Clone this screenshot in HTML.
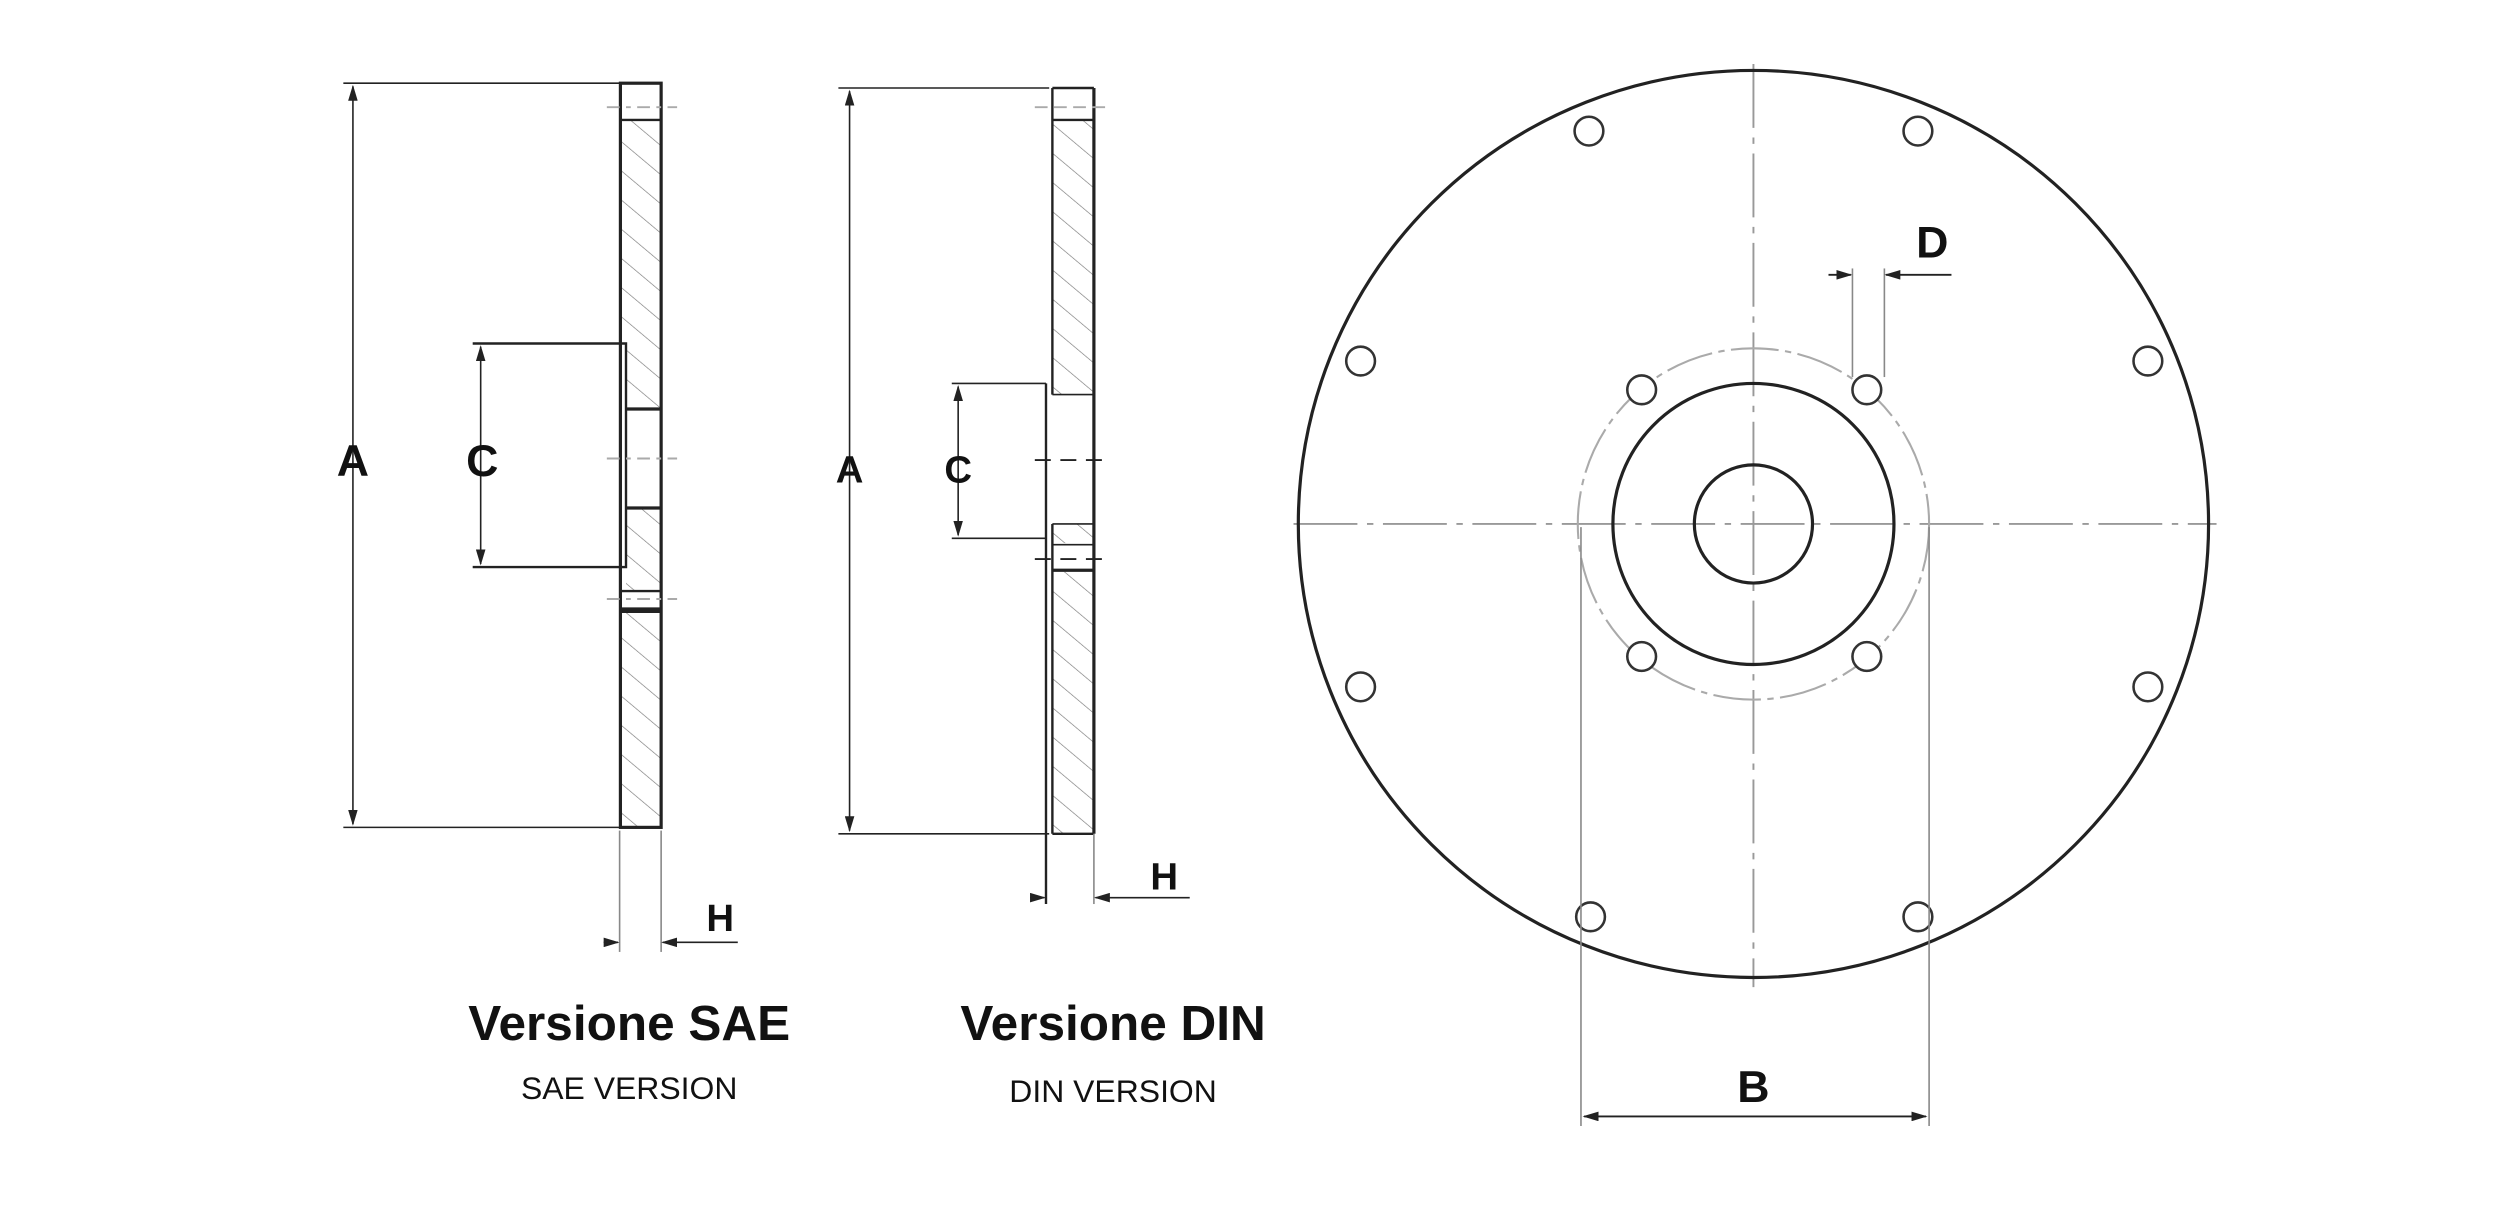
<!DOCTYPE html>
<html><head><meta charset="utf-8"><style>
html,body{margin:0;padding:0;background:#fff;}
svg{display:block;}
text{font-family:"Liberation Sans",sans-serif;}
</style></head><body>
<svg width="2504" height="1214" viewBox="0 0 1568 760" xmlns="http://www.w3.org/2000/svg">
<defs>
<pattern id="h" width="14" height="14" patternUnits="userSpaceOnUse" patternTransform="rotate(-50)">
<line x1="0" y1="0" x2="0" y2="14" stroke="#777" stroke-width="0.8"/>
</pattern>
<marker id="ar" markerWidth="10" markerHeight="6" refX="9" refY="3" orient="auto-start-reverse" markerUnits="userSpaceOnUse"><path d="M0,0 L10,3 L0,6 z" fill="#222"/></marker>
</defs>
<rect width="1568" height="760" fill="#fff"/>

<!-- SAE -->
<g stroke="#222" fill="none">
<line x1="215" y1="52" x2="388" y2="52" stroke-width="1"/>
<line x1="215" y1="518" x2="388" y2="518" stroke-width="1"/>
<line x1="221" y1="54" x2="221" y2="516" stroke-width="1" marker-start="url(#ar)" marker-end="url(#ar)"/>
<rect x="389" y="75" width="25" height="140" fill="url(#h)" stroke="none"/>
<rect x="392" y="215" width="22" height="41" fill="url(#h)" stroke="none"/>
<rect x="392" y="318" width="22" height="52" fill="url(#h)" stroke="none"/>
<rect x="389" y="383" width="25" height="135" fill="url(#h)" stroke="none"/>
<rect x="388.5" y="52" width="25.5" height="466" stroke-width="2"/>
<line x1="388" y1="75" x2="414" y2="75" stroke-width="1.5"/>
<line x1="392" y1="256" x2="414" y2="256" stroke-width="2"/>
<line x1="392" y1="318" x2="414" y2="318" stroke-width="2"/>
<line x1="388" y1="370" x2="414" y2="370" stroke-width="1.5"/>
<line x1="388" y1="382" x2="414" y2="382" stroke-width="3.5"/>
<polyline points="296,215 392,215 392,355 296,355" stroke-width="1.5"/>
<line x1="301" y1="217" x2="301" y2="353" stroke-width="1" marker-start="url(#ar)" marker-end="url(#ar)"/>
<g stroke="#aaa" stroke-dasharray="8,4,3,4" stroke-width="1.2"><line x1="380" y1="67" x2="424" y2="67"/><line x1="380" y1="287" x2="424" y2="287"/><line x1="380" y1="375" x2="424" y2="375"/></g>
<line x1="388" y1="520" x2="388" y2="596" stroke="#888" stroke-width="1"/>
<line x1="414" y1="520" x2="414" y2="596" stroke="#888" stroke-width="1"/>
<line x1="378" y1="590" x2="387" y2="590" stroke-width="1" marker-end="url(#ar)"/>
<line x1="462" y1="590" x2="415" y2="590" stroke-width="1" marker-end="url(#ar)"/>
</g>
<text x="221" y="298" font-size="28" font-weight="bold" text-anchor="middle" fill="#111">A</text>
<text x="302" y="298" font-size="28" font-weight="bold" text-anchor="middle" fill="#111">C</text>
<text x="451" y="583" font-size="24" font-weight="bold" text-anchor="middle" fill="#111">H</text>
<text x="394" y="651" font-size="31" font-weight="bold" text-anchor="middle" fill="#111">Versione SAE</text>
<text x="394" y="688" font-size="20" text-anchor="middle" fill="#111">SAE VERSION</text>

<!-- DIN -->
<g stroke="#222" fill="none">
<line x1="525" y1="55" x2="657" y2="55" stroke-width="1"/>
<line x1="525" y1="522" x2="657" y2="522" stroke-width="1"/>
<line x1="532" y1="57" x2="532" y2="520" stroke-width="1" marker-start="url(#ar)" marker-end="url(#ar)"/>
<rect x="659" y="75" width="26" height="172" fill="url(#h)" stroke="none"/>
<rect x="659" y="328" width="26" height="12" fill="url(#h)" stroke="none"/>
<rect x="659" y="358" width="26" height="164" fill="url(#h)" stroke="none"/>
<line x1="659" y1="55" x2="685" y2="55" stroke-width="1.5"/>
<line x1="659" y1="55" x2="659" y2="247" stroke-width="1.5"/>
<line x1="685" y1="55" x2="685" y2="522" stroke-width="2"/>
<line x1="659" y1="75" x2="685" y2="75" stroke-width="1.5"/>
<line x1="659" y1="247" x2="685" y2="247" stroke-width="1"/>
<line x1="659" y1="328" x2="685" y2="328" stroke-width="1"/>
<line x1="659" y1="328" x2="659" y2="522" stroke-width="1.5"/>
<line x1="659" y1="522" x2="685" y2="522" stroke-width="1.5"/>
<line x1="659" y1="341" x2="685" y2="341" stroke-width="1"/>
<line x1="659" y1="357" x2="685" y2="357" stroke-width="2"/>
<line x1="655" y1="240" x2="655" y2="566" stroke-width="1.5"/>
<polyline points="596,240 655,240" stroke-width="1"/>
<polyline points="596,337 655,337" stroke-width="1"/>
<line x1="600" y1="242" x2="600" y2="335" stroke-width="1" marker-start="url(#ar)" marker-end="url(#ar)"/>
<g stroke="#222" stroke-dasharray="10,6" stroke-width="1.2"><line x1="648" y1="288" x2="696" y2="288"/><line x1="648" y1="350" x2="696" y2="350"/></g>
<line x1="648" y1="67" x2="696" y2="67" stroke="#aaa" stroke-dasharray="8,4" stroke-width="1.2"/>
<line x1="685" y1="522" x2="685" y2="566" stroke="#888" stroke-width="1"/>
<line x1="645" y1="562" x2="654" y2="562" stroke-width="1" marker-end="url(#ar)"/>
<line x1="745" y1="562" x2="686" y2="562" stroke-width="1" marker-end="url(#ar)"/>
</g>
<text x="532" y="302" font-size="24" font-weight="bold" text-anchor="middle" fill="#111">A</text>
<text x="600" y="302" font-size="24" font-weight="bold" text-anchor="middle" fill="#111">C</text>
<text x="729" y="557" font-size="24" font-weight="bold" text-anchor="middle" fill="#111">H</text>
<text x="697" y="651" font-size="31" font-weight="bold" text-anchor="middle" fill="#111">Versione DIN</text>
<text x="697" y="690" font-size="20" text-anchor="middle" fill="#111">DIN VERSION</text>

<!-- Front view -->
<g fill="none">
<g stroke="#999" stroke-width="1.2" stroke-dasharray="40,6,4,6">
<line x1="810" y1="328" x2="1388" y2="328"/>
<line x1="1098" y1="40" x2="1098" y2="618"/>
</g>
<circle cx="1098" cy="328" r="110" stroke="#aaa" stroke-width="1.3" stroke-dasharray="30,4,4,4"/>
<ellipse cx="1098" cy="328" rx="285" ry="284" stroke="#222" stroke-width="2"/>
<circle cx="1098" cy="328" r="88" stroke="#222" stroke-width="2"/>
<circle cx="1098" cy="328" r="37" stroke="#222" stroke-width="2"/>
<g stroke="#333" stroke-width="1.6" fill="#fff">
<circle cx="1028" cy="244" r="9"/><circle cx="1169" cy="244" r="9"/>
<circle cx="1028" cy="411" r="9"/><circle cx="1169" cy="411" r="9"/>
<circle cx="995" cy="82" r="9"/><circle cx="1201" cy="82" r="9"/>
<circle cx="852" cy="226" r="9"/><circle cx="1345" cy="226" r="9"/>
<circle cx="852" cy="430" r="9"/><circle cx="1345" cy="430" r="9"/>
<circle cx="996" cy="574" r="9"/><circle cx="1201" cy="574" r="9"/>
</g>
<g stroke="#888" stroke-width="1">
<line x1="990" y1="330" x2="990" y2="705"/>
<line x1="1208" y1="330" x2="1208" y2="705"/>
<line x1="1160" y1="168" x2="1160" y2="236"/>
<line x1="1180" y1="168" x2="1180" y2="236"/>
</g>
<line x1="992" y1="699" x2="1206" y2="699" stroke="#222" stroke-width="1.2" marker-start="url(#ar)" marker-end="url(#ar)"/>
<line x1="1145" y1="172" x2="1159" y2="172" stroke="#222" stroke-width="1.2" marker-end="url(#ar)"/>
<line x1="1222" y1="172" x2="1181" y2="172" stroke="#222" stroke-width="1.2" marker-end="url(#ar)"/>
</g>
<text x="1098" y="690" font-size="28" font-weight="bold" text-anchor="middle" fill="#111">B</text>
<text x="1210" y="161" font-size="28" font-weight="bold" text-anchor="middle" fill="#111">D</text>
</svg>
</body></html>
